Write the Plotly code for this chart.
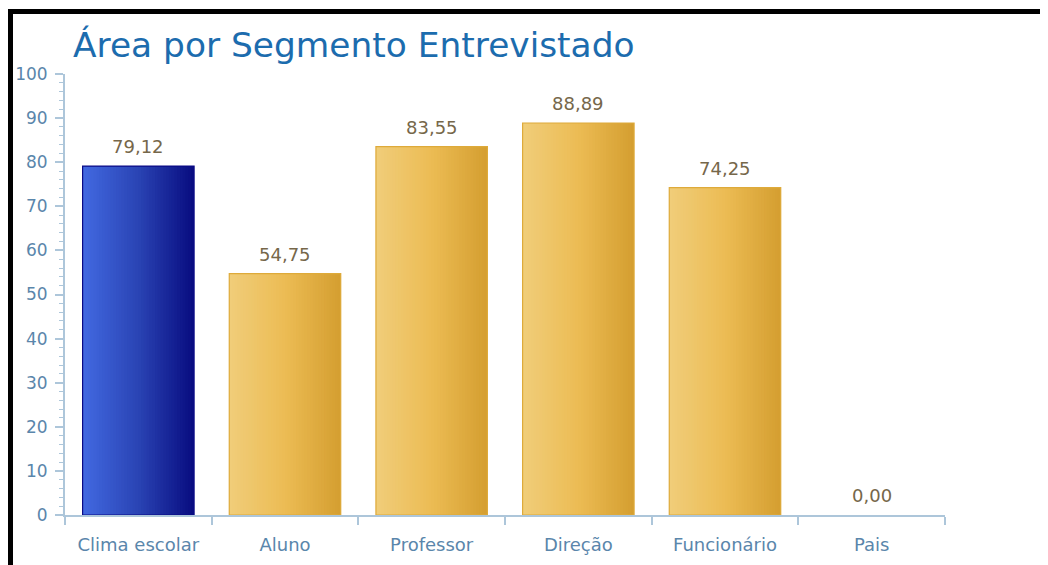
import plotly.graph_objects as go

categories = ["Clima escolar", "Aluno", "Professor", "Direção", "Funcionário", "Pais"]
values = [79.12, 54.75, 83.55, 88.89, 74.25, 0.00]
title_text = "Área por Segmento Entrevistado"

# gradient stops (left, middle, right) per bar style
blue_stops = [(66, 105, 225), (42, 68, 180), (8, 12, 128)]
gold_stops = [(240, 205, 122), (236, 188, 84), (212, 158, 48)]
blue_line = "#0a0a85"
gold_line = "#deaa3a"
bar_styles = ["blue", "gold", "gold", "gold", "gold", "gold"]

BAR_W = 0.76
N_STRIPS = 40


def interp(stops, t):
    if t <= 0.5:
        a, b, u = stops[0], stops[1], t / 0.5
    else:
        a, b, u = stops[1], stops[2], (t - 0.5) / 0.5
    return "rgb(%d,%d,%d)" % tuple(round(a[i] + (b[i] - a[i]) * u) for i in range(3))


fig = go.Figure()

step = BAR_W / N_STRIPS
for k in range(N_STRIPS):
    t = (k + 0.5) / N_STRIPS
    colors = [interp(blue_stops if s == "blue" else gold_stops, t) for s in bar_styles]
    fig.add_trace(go.Bar(
        x=categories, y=values,
        width=min(2.5 * step, BAR_W - k * step),
        offset=-BAR_W / 2 + k * step,
        marker=dict(color=colors, line=dict(width=0)),
        hoverinfo="skip", showlegend=False,
    ))

# outline
line_colors = []
for s, v in zip(bar_styles, values):
    if v == 0:
        line_colors.append("rgba(0,0,0,0)")
    else:
        line_colors.append(blue_line if s == "blue" else gold_line)
fig.add_trace(go.Bar(
    x=categories, y=values,
    width=BAR_W, offset=-BAR_W / 2,
    marker=dict(color="rgba(0,0,0,0)", line=dict(width=1.2, color=line_colors)),
    showlegend=False,
))

# value labels
for c, v in zip(categories, values):
    fig.add_annotation(
        x=c, y=v, xref="x", yref="y",
        text=("%.2f" % v).replace(".", ","),
        showarrow=False, yanchor="bottom", yshift=7,
        font=dict(family="DejaVu Sans", size=18, color="#76674a"),
    )

# page body has an 8px margin, so the figure is drawn shifted by 8px
OFF = 8
W, H = 1048 - OFF, 565 - OFF
ml, mt = 65 - OFF, 74 - OFF
mr = W - (945 - OFF)
mb = H - (515 - OFF)
pw, ph = W - ml - mr, H - mt - mb

fig.update_layout(
    width=W, height=H,
    margin=dict(l=ml, r=mr, t=mt, b=mb, autoexpand=False),
    paper_bgcolor="white", plot_bgcolor="white",
    barmode="overlay", separators=",.",
    showlegend=False,
    title=dict(text=title_text, x=(73 - OFF) / W, xanchor="left",
               y=1 - (45 - OFF) / H, yanchor="middle",
               font=dict(family="DejaVu Sans", size=34.4, color="#1c6cae")),
    font=dict(family="DejaVu Sans"),
    shapes=[dict(type="rect", xref="paper", yref="paper",
                 x0=(10.5 - 65) / pw, x1=(1090 - 65) / pw,
                 y0=-(640 - 515) / ph, y1=1 + (74 - 11.5) / ph,
                 line=dict(color="black", width=5), layer="above")],
)

fig.update_xaxes(
    type="category", showline=True, linecolor="#adc6da", linewidth=2,
    ticks="outside", tickson="boundaries", ticklen=8, tickcolor="#adc6da", tickwidth=2,
    tickfont=dict(family="DejaVu Sans", size=18, color="#5a86ab"),
    ticklabelstandoff=12, showgrid=False, zeroline=False, automargin=False,
)
fig.update_yaxes(
    range=[0, 100], dtick=10, showline=True, linecolor="#adc6da", linewidth=2,
    ticks="outside", ticklen=8, tickcolor="#adc6da", tickwidth=2,
    minor=dict(dtick=2, ticks="outside", ticklen=4, tickcolor="#adc6da", tickwidth=1, showgrid=False),
    tickfont=dict(family="DejaVu Sans", size=17, color="#5a86ab"),
    ticklabelstandoff=4, showgrid=False, zeroline=False, automargin=False,
)

fig.write_html("out.html")
